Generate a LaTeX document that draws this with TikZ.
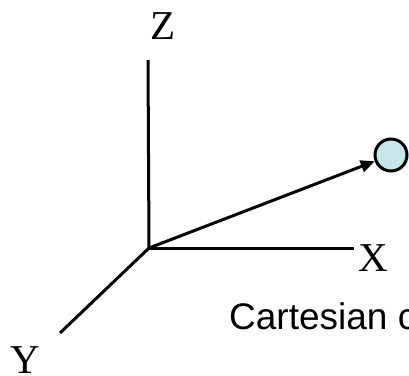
\documentclass[tikz,border=0pt]{standalone}
\usepackage{fontspec}
\setmainfont{Liberation Serif}
\newfontfamily\arialfont{Liberation Sans}
\usetikzlibrary{arrows.meta}
\definecolor{ballfill}{RGB}{200,229,234}
\tikzset{
  axis/.style={line width=3pt, line cap=butt},
  axislabel/.style={inner sep=0pt, text depth=0pt, anchor=base, font=\fontsize{41}{48}\selectfont},
  ball/.style={circle, draw=black, line width=3pt, fill=ballfill, minimum size=32pt, inner sep=0pt},
  vec/.style={line width=3pt, -{Triangle[length=14pt,width=12pt]}},
  caption/.style={inner sep=0pt, text depth=0pt, font=\arialfont\fontsize{37}{44}\selectfont}
}
\begin{document}
\begin{tikzpicture}[x=1pt,y=-1pt]
\useasboundingbox (0,0) rectangle (409,375);
\clip (0,0) rectangle (409,375);
\coordinate (O) at (149,248);
\coordinate (Zend) at (148,60);
\coordinate (Xend) at (354,248);
\coordinate (Yend) at (60,333);
\draw[axis] (O) -- (Zend);
\draw[axis] (O) -- (Xend);
\draw[axis] (O) -- (Yend);
\node[ball] (P) at (391,155) {};
\draw[vec] (O) -- (P);
\node[axislabel] (Zl) at (163.5,39) {Z};
\node[axislabel] (Xl) at (373,271) {X};
\node[axislabel] (Yl) at (25.5,373) {Y};
\node[caption, anchor=base west] (cap) at (229,329) {Cartesian c};
\end{tikzpicture}
\end{document}
